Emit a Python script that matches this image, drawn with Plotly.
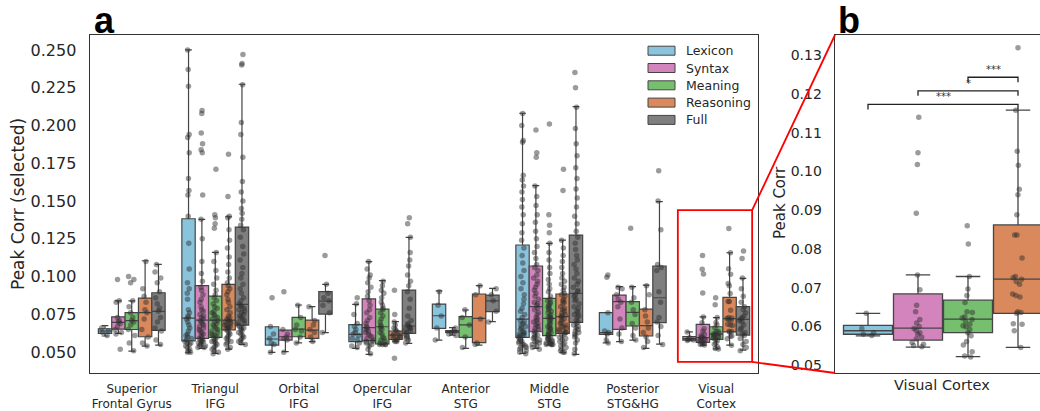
import plotly.graph_objects as go

# ---------------- data ----------------
REGIONS = ["Superior<br>Frontal Gyrus", "Triangul<br>IFG", "Orbital<br>IFG", "Opercular<br>IFG",
           "Anterior<br>STG", "Middle<br>STG", "Posterior<br>STG&HG", "Visual<br>Cortex"]
HUES = ["Lexicon", "Syntax", "Meaning", "Reasoning", "Full"]

# box statistics per region (order of REGIONS)
LEXICON_Q1 = [0.0624, 0.0575, 0.0547, 0.0569, 0.0657, 0.0598, 0.0618, 0.0580]
LEXICON_MED = [0.0640, 0.0725, 0.0587, 0.0618, 0.0741, 0.0719, 0.0629, 0.0589]
LEXICON_Q3 = [0.0655, 0.1383, 0.0668, 0.0682, 0.0818, 0.1209, 0.0761, 0.0603]
LEXICON_LO = [0.0607, 0.0496, 0.0498, 0.0525, 0.0580, 0.0492, 0.0562, 0.0576]
LEXICON_HI = [0.0675, 0.2500, 0.0668, 0.0816, 0.0905, 0.2081, 0.0761, 0.0634]

SYNTAX_Q1 = [0.0653, 0.0591, 0.0580, 0.0576, 0.0629, 0.0635, 0.0651, 0.0565]
SYNTAX_MED = [0.0697, 0.0712, 0.0602, 0.0662, 0.0635, 0.0801, 0.0834, 0.0596]
SYNTAX_Q3 = [0.0734, 0.0940, 0.0646, 0.0852, 0.0642, 0.1070, 0.0878, 0.0684]
SYNTAX_LO = [0.0624, 0.0525, 0.0503, 0.0485, 0.0613, 0.0525, 0.0569, 0.0547]
SYNTAX_HI = [0.0840, 0.1379, 0.0646, 0.1099, 0.0662, 0.1602, 0.0933, 0.0733]

MEANING_Q1 = [0.0650, 0.0598, 0.0602, 0.0554, 0.0598, 0.0609, 0.0673, 0.0584]
MEANING_MED = [0.0708, 0.0712, 0.0653, 0.0668, 0.0680, 0.0724, 0.0763, 0.0619]
MEANING_Q3 = [0.0761, 0.0871, 0.0730, 0.0785, 0.0735, 0.0856, 0.0834, 0.0668]
MEANING_LO = [0.0507, 0.0492, 0.0562, 0.0550, 0.0525, 0.0547, 0.0580, 0.0522]
MEANING_HI = [0.0840, 0.1160, 0.0812, 0.0973, 0.0779, 0.1220, 0.0933, 0.0729]

REASONING_Q1 = [0.0602, 0.0648, 0.0591, 0.0585, 0.0563, 0.0624, 0.0607, 0.0634]
REASONING_MED = [0.0761, 0.0712, 0.0646, 0.0613, 0.0724, 0.0735, 0.0675, 0.0722]
REASONING_Q3 = [0.0858, 0.0948, 0.0712, 0.0640, 0.0885, 0.0885, 0.0785, 0.0862]
REASONING_LO = [0.0540, 0.0520, 0.0569, 0.0569, 0.0547, 0.0496, 0.0525, 0.0546]
REASONING_HI = [0.1105, 0.1396, 0.0801, 0.0702, 0.0940, 0.1242, 0.0944, 0.1158]

FULL_Q1 = [0.0644, 0.0679, 0.0752, 0.0624, 0.0768, 0.0697, 0.0695, 0.0613]
FULL_MED = [0.0770, 0.0816, 0.0838, 0.0673, 0.0840, 0.0889, 0.0860, 0.0717]
FULL_Q3 = [0.0893, 0.1328, 0.0900, 0.0911, 0.0878, 0.1275, 0.1070, 0.0801]
FULL_LO = [0.0547, 0.0551, 0.0629, 0.0558, 0.0702, 0.0485, 0.0553, 0.0514]
FULL_HI = [0.1081, 0.2273, 0.0949, 0.1260, 0.0922, 0.2125, 0.1496, 0.0988]

# individual subject values per region (order of REGIONS)
LEXICON_PTS = [
    [0.066, 0.064, 0.063, 0.061],
    [0.250, 0.237, 0.226, 0.194, 0.192, 0.182, 0.165, 0.157, 0.154, 0.140, 0.122, 0.105, 0.096, 0.092,
     0.089, 0.085, 0.078, 0.076, 0.074, 0.073, 0.072, 0.070, 0.068, 0.066, 0.064, 0.062, 0.061, 0.060,
     0.059, 0.058, 0.057, 0.056, 0.056, 0.055, 0.054, 0.053, 0.052, 0.051, 0.050, 0.050],
    [0.086, 0.067, 0.062, 0.059, 0.056, 0.055, 0.050],
    [0.086, 0.082, 0.075, 0.069, 0.067, 0.065, 0.063, 0.062, 0.061, 0.059, 0.058, 0.056, 0.054, 0.053],
    [0.090, 0.081, 0.074, 0.066, 0.058],
    [0.208, 0.200, 0.190, 0.189, 0.167, 0.164, 0.160, 0.156, 0.151, 0.146, 0.141, 0.135, 0.129, 0.124,
     0.119, 0.114, 0.109, 0.104, 0.100, 0.096, 0.092, 0.088, 0.085, 0.082, 0.079, 0.077, 0.075, 0.073,
     0.071, 0.070, 0.069, 0.068, 0.067, 0.066, 0.065, 0.064, 0.063, 0.062, 0.062, 0.061, 0.061, 0.060,
     0.059, 0.058, 0.057, 0.057, 0.056, 0.055, 0.055, 0.054, 0.053, 0.053, 0.052, 0.051, 0.050, 0.049],
    [0.101, 0.0995, 0.076, 0.064, 0.063, 0.062, 0.058, 0.056],
    [0.0634, 0.0595, 0.0584, 0.0580, 0.0577],
]
SYNTAX_PTS = [
    [0.098, 0.084, 0.083, 0.073, 0.071, 0.070, 0.069, 0.067, 0.065, 0.063, 0.062, 0.052],
    [0.210, 0.208, 0.195, 0.188, 0.184, 0.182, 0.154, 0.138, 0.125, 0.110, 0.102, 0.097,
     0.093, 0.091, 0.088, 0.085, 0.083, 0.080, 0.078, 0.077, 0.075, 0.074, 0.073, 0.072,
     0.071, 0.070, 0.069, 0.068, 0.067, 0.066, 0.065, 0.064, 0.063, 0.062, 0.061, 0.060,
     0.059, 0.058, 0.058, 0.057, 0.057, 0.056, 0.056, 0.055, 0.054, 0.054, 0.053, 0.053],
    [0.090, 0.065, 0.062, 0.060, 0.059, 0.058, 0.050],
    [0.110, 0.105, 0.101, 0.099, 0.096, 0.093, 0.090, 0.087, 0.084, 0.081, 0.078, 0.076, 0.073, 0.071,
     0.069, 0.067, 0.066, 0.065, 0.064, 0.063, 0.062, 0.061, 0.060, 0.059, 0.058, 0.057, 0.057, 0.056,
     0.055, 0.054, 0.052, 0.049],
    [0.066, 0.064, 0.063, 0.062, 0.061],
    [0.197, 0.182, 0.179, 0.160, 0.153, 0.147, 0.141, 0.136, 0.130, 0.125, 0.120, 0.116, 0.112, 0.108,
     0.106, 0.104, 0.101, 0.099, 0.097, 0.095, 0.093, 0.091, 0.089, 0.087, 0.085, 0.083, 0.082, 0.081,
     0.079, 0.078, 0.076, 0.075, 0.073, 0.072, 0.071, 0.070, 0.069, 0.068, 0.067, 0.066, 0.065, 0.064,
     0.063, 0.062, 0.061, 0.060, 0.060, 0.059, 0.058, 0.057, 0.057, 0.056, 0.055, 0.054, 0.053, 0.052],
    [0.093, 0.092, 0.088, 0.085, 0.083, 0.080, 0.072, 0.066, 0.062, 0.057],
    [0.1140, 0.1048, 0.1018, 0.0892, 0.0733, 0.0695, 0.0655, 0.0638, 0.0618, 0.0609, 0.0600, 0.0595,
     0.0590, 0.0584, 0.0580, 0.0572, 0.0568, 0.0559, 0.0554, 0.0551, 0.0548],
]
MEANING_PTS = [
    [0.100, 0.098, 0.096, 0.084, 0.080, 0.076, 0.073, 0.071, 0.070, 0.068, 0.065, 0.061, 0.056, 0.051],
    [0.171, 0.141, 0.139, 0.135, 0.132, 0.116, 0.110, 0.104, 0.099, 0.095, 0.091, 0.088,
     0.086, 0.084, 0.082, 0.080, 0.079, 0.077, 0.076, 0.075, 0.074, 0.073, 0.072, 0.071,
     0.070, 0.069, 0.068, 0.067, 0.066, 0.065, 0.064, 0.063, 0.062, 0.061, 0.061, 0.060,
     0.059, 0.058, 0.057, 0.057, 0.056, 0.055, 0.054, 0.053, 0.052, 0.051, 0.050, 0.049],
    [0.081, 0.073, 0.068, 0.065, 0.064, 0.060, 0.056],
    [0.097, 0.094, 0.091, 0.089, 0.086, 0.083, 0.081, 0.079, 0.078, 0.076, 0.074, 0.072, 0.070, 0.068,
     0.067, 0.066, 0.065, 0.063, 0.062, 0.060, 0.059, 0.058, 0.057, 0.056, 0.055, 0.055, 0.055, 0.055],
    [0.078, 0.073, 0.068, 0.060, 0.053],
    [0.201, 0.141, 0.134, 0.129, 0.122, 0.116, 0.111, 0.106, 0.102, 0.098, 0.095, 0.092, 0.090, 0.087,
     0.085, 0.084, 0.083, 0.082, 0.081, 0.080, 0.079, 0.078, 0.077, 0.076, 0.075, 0.074, 0.073, 0.073,
     0.072, 0.071, 0.070, 0.069, 0.068, 0.067, 0.066, 0.066, 0.065, 0.064, 0.063, 0.062, 0.062, 0.061,
     0.060, 0.060, 0.059, 0.059, 0.058, 0.058, 0.057, 0.057, 0.056, 0.056, 0.055, 0.055, 0.055, 0.055],
    [0.132, 0.093, 0.086, 0.083, 0.078, 0.075, 0.069, 0.066, 0.061, 0.058],
    [0.0860, 0.0813, 0.0729, 0.0697, 0.0680, 0.0662, 0.0638, 0.0636, 0.0625, 0.0622, 0.0618, 0.0613,
     0.0606, 0.0602, 0.0599, 0.0592, 0.0584, 0.0576, 0.0561, 0.0552, 0.0535, 0.0524, 0.0521],
]
REASONING_PTS = [
    [0.110, 0.092, 0.087, 0.083, 0.078, 0.076, 0.072, 0.065, 0.060, 0.056, 0.054],
    [0.181, 0.153, 0.140, 0.139, 0.131, 0.124, 0.119, 0.113, 0.108, 0.103, 0.099, 0.096,
     0.094, 0.092, 0.090, 0.088, 0.085, 0.083, 0.080, 0.078, 0.076, 0.074, 0.073, 0.072,
     0.071, 0.071, 0.070, 0.070, 0.069, 0.068, 0.068, 0.067, 0.067, 0.066, 0.066, 0.065,
     0.064, 0.063, 0.062, 0.061, 0.060, 0.059, 0.058, 0.057, 0.056, 0.055, 0.053, 0.052],
    [0.080, 0.071, 0.068, 0.065, 0.063, 0.060, 0.057],
    [0.091, 0.075, 0.070, 0.068, 0.066, 0.065, 0.064, 0.063, 0.062, 0.061, 0.061, 0.060, 0.059, 0.059,
     0.058, 0.057, 0.057, 0.046],
    [0.094, 0.088, 0.072, 0.056, 0.055],
    [0.171, 0.157, 0.124, 0.119, 0.114, 0.110, 0.106, 0.102, 0.099, 0.097, 0.095, 0.093, 0.091, 0.089,
     0.088, 0.087, 0.085, 0.084, 0.083, 0.082, 0.080, 0.079, 0.078, 0.077, 0.076, 0.075, 0.074, 0.074,
     0.073, 0.072, 0.071, 0.070, 0.069, 0.068, 0.067, 0.067, 0.066, 0.065, 0.064, 0.064, 0.063, 0.063,
     0.062, 0.061, 0.060, 0.059, 0.058, 0.057, 0.056, 0.055, 0.054, 0.053, 0.052, 0.051, 0.050, 0.050],
    [0.094, 0.088, 0.078, 0.074, 0.070, 0.066, 0.063, 0.060, 0.057, 0.053],
    [0.1319, 0.1158, 0.1052, 0.1016, 0.0954, 0.0940, 0.0888, 0.0836, 0.0836, 0.0777, 0.0729, 0.0726,
     0.0722, 0.0716, 0.0709, 0.0684, 0.0680, 0.0676, 0.0638, 0.0636, 0.0634, 0.0607, 0.0606, 0.0589,
     0.0546],
]
FULL_PTS = [
    [0.108, 0.103, 0.099, 0.096, 0.090, 0.086, 0.082, 0.079, 0.077, 0.073, 0.070, 0.066, 0.064, 0.058, 0.055],
    [0.247, 0.241, 0.240, 0.227, 0.202, 0.194, 0.179, 0.163, 0.156, 0.150, 0.145, 0.142, 0.138, 0.134,
     0.131, 0.126, 0.120, 0.115, 0.111, 0.106, 0.102, 0.099, 0.095, 0.092, 0.089, 0.086, 0.084, 0.082,
     0.081, 0.080, 0.079, 0.078, 0.077, 0.076, 0.075, 0.074, 0.073, 0.072, 0.071, 0.070, 0.069, 0.068,
     0.067, 0.066, 0.066, 0.065, 0.064, 0.063, 0.062, 0.061, 0.060, 0.059, 0.058, 0.057, 0.056, 0.055],
    [0.114, 0.095, 0.089, 0.086, 0.084, 0.081, 0.076, 0.063],
    [0.139, 0.135, 0.126, 0.116, 0.111, 0.107, 0.101, 0.097, 0.094, 0.090, 0.085, 0.079, 0.074, 0.071,
     0.069, 0.068, 0.067, 0.066, 0.066, 0.065, 0.064, 0.063, 0.062, 0.061, 0.060, 0.059, 0.058, 0.056],
    [0.092, 0.088, 0.084, 0.077, 0.070],
    [0.235, 0.225, 0.212, 0.198, 0.188, 0.180, 0.172, 0.165, 0.158, 0.152, 0.146, 0.140, 0.135, 0.130,
     0.126, 0.122, 0.118, 0.114, 0.111, 0.108, 0.105, 0.102, 0.099, 0.097, 0.095, 0.093, 0.091, 0.090,
     0.088, 0.087, 0.085, 0.084, 0.082, 0.080, 0.079, 0.077, 0.076, 0.075, 0.074, 0.073, 0.071, 0.070,
     0.069, 0.068, 0.067, 0.066, 0.065, 0.064, 0.063, 0.062, 0.061, 0.060, 0.058, 0.056, 0.052, 0.049],
    [0.170, 0.150, 0.131, 0.108, 0.106, 0.104, 0.090, 0.083, 0.073, 0.070, 0.067, 0.061, 0.055],
    [0.117, 0.112, 0.099, 0.092, 0.087, 0.083, 0.080, 0.078, 0.076, 0.074, 0.073, 0.072, 0.071, 0.070,
     0.068, 0.066, 0.065, 0.063, 0.062, 0.061, 0.059, 0.057, 0.055, 0.053, 0.051],
]

# significance tests shown in panel b: (hue index a, hue index b, label)
SIG_PAIRS = [(0, 3, "***"), (1, 3, "*"), (2, 3, "***")]
ZOOM_REGION = "Visual<br>Cortex"

# ---------------- assemble ----------------
STATS = {
    "Lexicon": (LEXICON_Q1, LEXICON_MED, LEXICON_Q3, LEXICON_LO, LEXICON_HI, LEXICON_PTS),
    "Syntax": (SYNTAX_Q1, SYNTAX_MED, SYNTAX_Q3, SYNTAX_LO, SYNTAX_HI, SYNTAX_PTS),
    "Meaning": (MEANING_Q1, MEANING_MED, MEANING_Q3, MEANING_LO, MEANING_HI, MEANING_PTS),
    "Reasoning": (REASONING_Q1, REASONING_MED, REASONING_Q3, REASONING_LO, REASONING_HI, REASONING_PTS),
    "Full": (FULL_Q1, FULL_MED, FULL_Q3, FULL_LO, FULL_HI, FULL_PTS),
}
COLORS = {"Lexicon": "#8ac3dc", "Syntax": "#d384bd", "Meaning": "#75bf6e",
          "Reasoning": "#d9895b", "Full": "#7f7f7f"}
EDGE = "#454545"
DOT = "rgba(45,45,45,0.48)"
TXT = "#262626"
FONT = "DejaVu Sans"

W, H = 1040, 411
def px(x):
    return x / W
def py(y):
    return 1 - y / H

XA_DOM = [px(90), px(758)]
XB_DOM = [px(835), 1.0]
Y_DOM = [py(373), py(35)]
XA_RNG = [-0.5, 7.5]
YA_RNG = [0.0362, 0.2599]
XB_RNG = [-0.66, 3.44]
YB_RNG = [0.048, 0.1352]
BW = 0.16

fig = go.Figure()
vi = REGIONS.index(ZOOM_REGION)

# boxes
for h, name in enumerate(HUES):
    q1, med, q3, lo, hi, pts = STATS[name]
    xs = [r + (h - 2) * BW for r in range(len(REGIONS))]
    fig.add_trace(go.Box(x=xs, q1=q1, median=med, q3=q3, lowerfence=lo, upperfence=hi,
                         width=BW, fillcolor=COLORS[name], line=dict(color=EDGE, width=1.2),
                         whiskerwidth=0.5, boxpoints=False, showlegend=False, hoverinfo="skip",
                         xaxis="x", yaxis="y"))
    fig.add_trace(go.Box(x=[h], q1=[q1[vi]], median=[med[vi]], q3=[q3[vi]],
                         lowerfence=[lo[vi]], upperfence=[hi[vi]],
                         width=0.98, fillcolor=COLORS[name], line=dict(color=EDGE, width=1.3),
                         whiskerwidth=0.5, boxpoints=False, showlegend=False, hoverinfo="skip",
                         xaxis="x2", yaxis="y2"))
# points
for h, name in enumerate(HUES):
    pts = STATS[name][5]
    xs, ys = [], []
    for r, vals in enumerate(pts):
        xs += [r + (h - 2) * BW] * len(vals)
        ys += vals
    fig.add_trace(go.Box(x=xs, y=ys, boxpoints="all", jitter=0.6, pointpos=0, width=BW,
                         fillcolor="rgba(0,0,0,0)", line=dict(color="rgba(0,0,0,0)", width=0),
                         marker=dict(color=DOT, size=5.5, line=dict(width=0)),
                         showlegend=False, hoverinfo="skip", xaxis="x", yaxis="y"))
    vals = pts[vi]
    fig.add_trace(go.Box(x=[h] * len(vals), y=vals, boxpoints="all", jitter=0.3, pointpos=0, width=0.98,
                         fillcolor="rgba(0,0,0,0)", line=dict(color="rgba(0,0,0,0)", width=0),
                         marker=dict(color=DOT, size=5.5, line=dict(width=0)),
                         showlegend=False, hoverinfo="skip", xaxis="x2", yaxis="y2"))

shapes = []
annots = []

# zoom rectangle + connector lines
RX0, RX1, RY0, RY1 = 6.54, 7.43, 0.0435, 0.144
shapes.append(dict(type="rect", xref="x", yref="y", x0=RX0, x1=RX1, y0=RY0, y1=RY1,
                   line=dict(color="#ff0000", width=1.8)))
def xa_paper(v):
    return XA_DOM[0] + (v - XA_RNG[0]) / (XA_RNG[1] - XA_RNG[0]) * (XA_DOM[1] - XA_DOM[0])
def ya_paper(v):
    return Y_DOM[0] + (v - YA_RNG[0]) / (YA_RNG[1] - YA_RNG[0]) * (Y_DOM[1] - Y_DOM[0])
shapes.append(dict(type="line", xref="paper", yref="paper", x0=xa_paper(RX1), y0=ya_paper(RY1),
                   x1=XB_DOM[0], y1=Y_DOM[1], line=dict(color="#ff0000", width=1.8)))
shapes.append(dict(type="line", xref="paper", yref="paper", x0=xa_paper(RX1), y0=ya_paper(RY0),
                   x1=XB_DOM[0], y1=Y_DOM[0], line=dict(color="#ff0000", width=1.8)))

# significance brackets
for k, (a, b, lab) in enumerate(SIG_PAIRS):
    yb = 0.1173 + k * 0.0035
    d = 0.0013
    shapes.append(dict(type="path", xref="x2", yref="y2",
                       path=f"M {a},{yb - d} L {a},{yb} L {b},{yb} L {b},{yb - d}",
                       line=dict(color="#222222", width=1.3)))
    annots.append(dict(x=(a + b) / 2, y=yb, xref="x2", yref="y2", text=lab, showarrow=False,
                       xanchor="center", yanchor="bottom",
                       font=dict(size=10, color="#333333", family=FONT)))

# legend (manual)
for i, name in enumerate(HUES):
    cy = 50.7 + 17.3 * i
    shapes.append(dict(type="rect", xref="paper", yref="paper", x0=px(648), x1=px(675),
                       y0=py(cy + 4.5), y1=py(cy - 4.5), fillcolor=COLORS[name],
                       line=dict(color=EDGE, width=1)))
    annots.append(dict(x=px(684), y=py(cy), xref="paper", yref="paper", text=name, showarrow=False,
                       xanchor="left", yanchor="middle", font=dict(size=12.5, color=TXT, family=FONT)))

# titles / panel labels
annots.append(dict(x=px(18), y=py(204), xref="paper", yref="paper", text="Peak Corr (selected)",
                   textangle=-90, showarrow=False, xanchor="center", yanchor="middle",
                   font=dict(size=17, color=TXT, family=FONT)))
annots.append(dict(x=px(780), y=py(203), xref="paper", yref="paper", text="Peak Corr",
                   textangle=-90, showarrow=False, xanchor="center", yanchor="middle",
                   font=dict(size=15, color=TXT, family=FONT)))
annots.append(dict(x=px(942), y=py(385), xref="paper", yref="paper", text="Visual Cortex",
                   showarrow=False, xanchor="center", yanchor="middle",
                   font=dict(size=14.5, color=TXT, family=FONT)))
annots.append(dict(x=px(92), y=py(20), xref="paper", yref="paper", text="<b>a</b>", showarrow=False,
                   xanchor="left", yanchor="middle",
                   font=dict(size=36, color="#000000", family="Liberation Sans")))
annots.append(dict(x=px(836), y=py(20), xref="paper", yref="paper", text="<b>b</b>", showarrow=False,
                   xanchor="left", yanchor="middle",
                   font=dict(size=36, color="#000000", family="Liberation Sans")))

frame = dict(showline=True, linecolor="#333333", linewidth=1.4, showgrid=False, zeroline=False,
             automargin=False, ticks="")
fig.update_layout(
    width=W, height=H, margin=dict(l=0, r=0, t=0, b=0),
    paper_bgcolor="white", plot_bgcolor="white", showlegend=False, boxmode="overlay",
    font=dict(family=FONT, color=TXT),
    xaxis=dict(domain=XA_DOM, range=XA_RNG, tickvals=list(range(len(REGIONS))), ticktext=REGIONS,
               tickfont=dict(size=12, color=TXT), mirror=True, ticklabelstandoff=4, anchor="y", **frame),
    yaxis=dict(domain=Y_DOM, range=YA_RNG, tickvals=[0.05 + 0.025 * i for i in range(9)],
               tickformat=".3f", tickfont=dict(size=16, color=TXT), mirror=True,
               ticklabelstandoff=9, anchor="x", **frame),
    xaxis2=dict(domain=XB_DOM, range=XB_RNG, showticklabels=False, mirror=True, anchor="y2", **frame),
    yaxis2=dict(domain=Y_DOM, range=YB_RNG, tickvals=[0.05 + 0.01 * i for i in range(9)],
                tickformat=".2f", tickfont=dict(size=14, color=TXT), ticklabelstandoff=9,
                anchor="x2", **frame),
    shapes=shapes, annotations=annots,
)

fig.write_html("out.html", config={"displayModeBar": False, "staticPlot": True},
               post_script="document.body.style.margin='0';document.body.style.overflow='hidden';")
